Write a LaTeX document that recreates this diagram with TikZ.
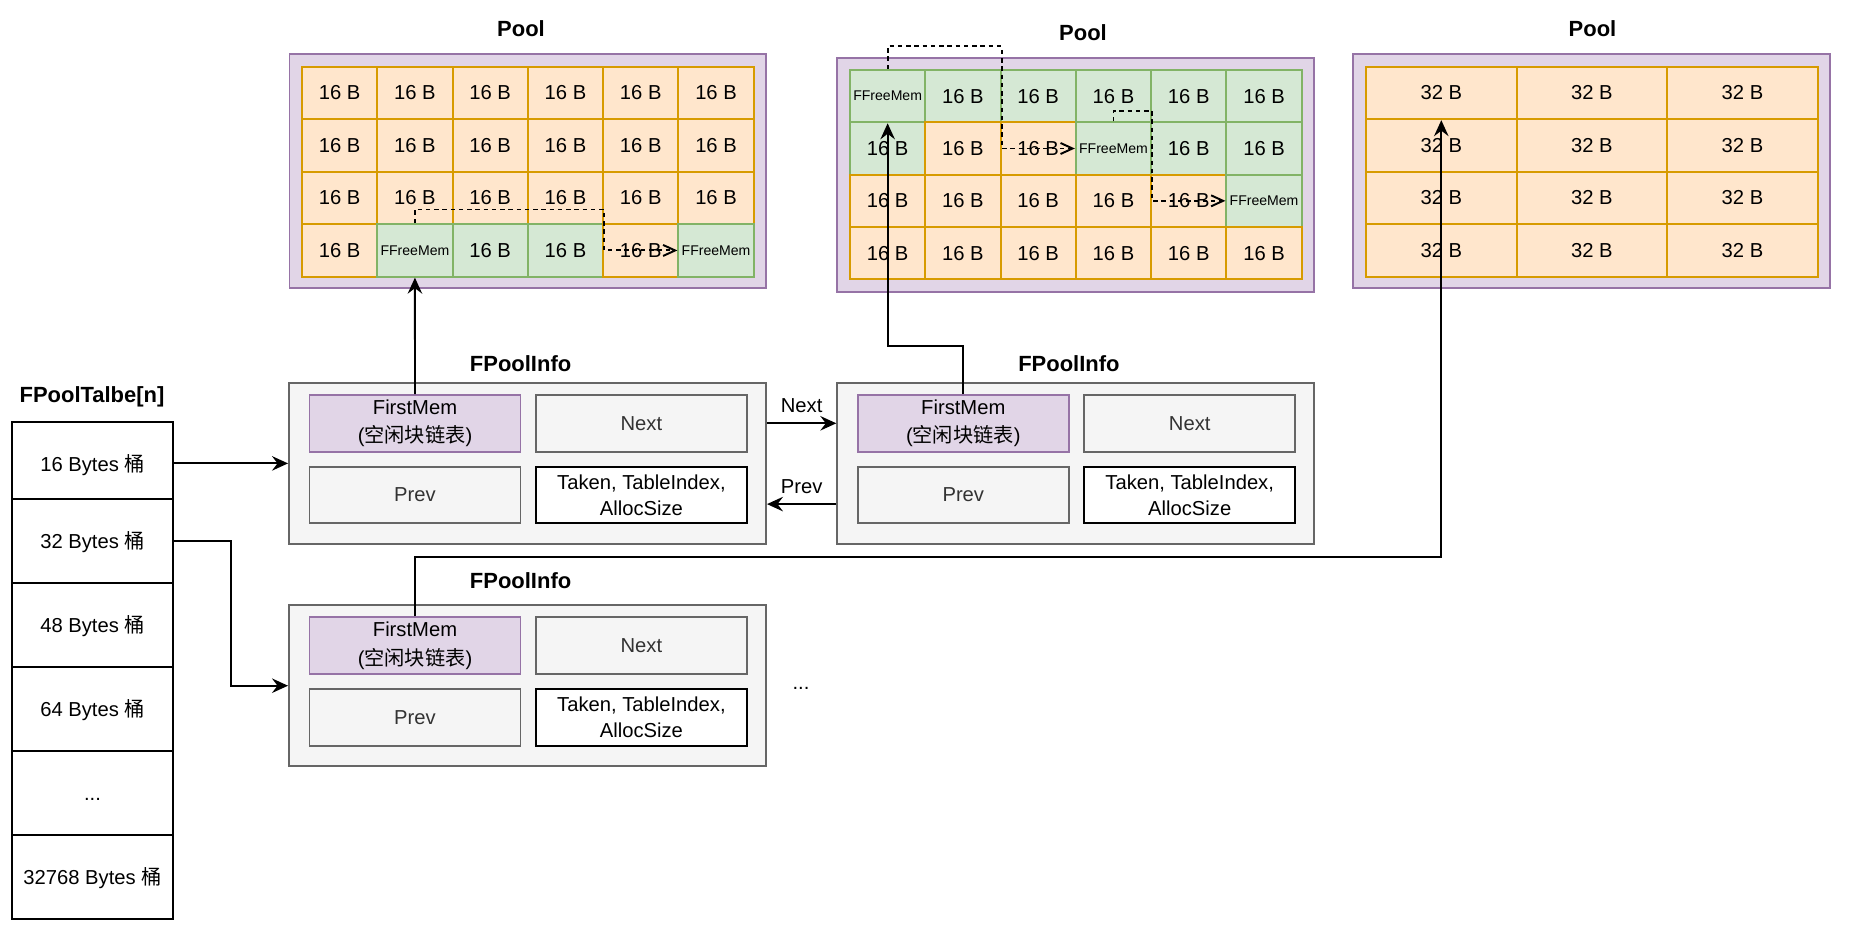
\documentclass[tikz,border=0pt]{standalone}
\usepackage{fontspec}
\setmainfont{Liberation Sans}
\newfontfamily\cjk{Noto Sans CJK SC}
\usepackage{tikz}
\usetikzlibrary{arrows.meta,positioning}
\definecolor{poolfill}{RGB}{225,213,231}
\definecolor{poolline}{RGB}{150,115,166}
\definecolor{usedfill}{RGB}{255,230,204}
\definecolor{usedline}{RGB}{215,155,0}
\definecolor{freefill}{RGB}{213,232,212}
\definecolor{freeline}{RGB}{130,179,102}
\definecolor{infofill}{RGB}{245,245,245}
\definecolor{infoline}{RGB}{102,102,102}
\definecolor{infotext}{RGB}{51,51,51}

\begin{document}
\begin{tikzpicture}[x=0.2mm,y=-0.2mm,
  every node/.style={font=\fontsize{11.5}{14.6}\selectfont},
  title/.style={font=\fontsize{12.5}{15}\selectfont\bfseries},
  poolbox/.style={draw=poolline,fill=poolfill,line width=1.1pt,
                  minimum width=95.3mm,minimum height=46.9mm},
  blk/.style={line width=1.1pt,inner sep=0pt,minimum width=\cellw,minimum height=\cellh},
  cello/.style={blk,draw=usedline,fill=usedfill,node contents=\blksize},
  cellg/.style={blk,draw=freeline,fill=freefill,node contents=\blksize},
  cellf/.style={blk,draw=freeline,fill=freefill,font=\fontsize{8}{9.6}\selectfont,
                node contents=FFreeMem},
  infobox/.style={draw=infoline,fill=infofill,line width=1.1pt,
                  minimum width=95.4mm,minimum height=32.26mm},
  field/.style={line width=1.1pt,inner sep=0pt,align=center,
                minimum width=42.2mm,minimum height=11.3mm},
  memfield/.style={field,draw=poolline,fill=poolfill,font=\fontsize{11.5}{16.3}\selectfont},
  linkfield/.style={field,draw=infoline,fill=infofill,text=infotext},
  datafield/.style={field,draw=black,fill=white},
  bucket/.style={draw=black,line width=1.1pt,outer sep=0pt,minimum width=32.2mm,
                 minimum height=16.8mm,text height=8.3pt,text depth=0pt},
  ptr/.style={-{Stealth[length=3.2mm,width=2.9mm,inset=1.1mm]},line width=1.1pt},
  freeptr/.style={-{Straight Barb[length=2.4mm,width=2.2mm]},line width=1.1pt,
                  dash pattern=on 0.9mm off 0.75mm},
  lbl/.style={font=\fontsize{11.5}{14}\selectfont}]

\path[use as bounding box,fill=white] (0,0) rectangle (1868,938);

% --- 1. pool of 16 B blocks (left)
\node[poolbox] (pool1) at (527.75,171) {};
\node[title] (pool1t) at (521,28.6) {Pool};
\begin{scope}[shift={(302,66.7)}]
  \def\blksize{16 B}\def\cellw{15.06mm}\def\cellh{10.5mm}
  \foreach \r/\kinds in {1/{o,o,o,o,o,o},2/{o,o,o,o,o,o},3/{o,o,o,o,o,o},4/{o,f,g,g,o,f}}
    \foreach \k [count=\c] in \kinds
      \node (pa-\r-\c) at ({(\c-.5)*75.28},{(\r-.5)*52.5}) [cell\k];
\end{scope}
% --- 2. pool of 16 B blocks (middle)
\node[poolbox] (pool2) at (1075.7,175) {};
\node[title] (pool2t) at (1083,32.5) {Pool};
\begin{scope}[shift={(850,70)}]
  \def\blksize{16 B}\def\cellw{15.06mm}\def\cellh{10.47mm}
  \foreach \r/\kinds in {1/{f,g,g,g,g,g},2/{g,o,o,f,g,g},3/{o,o,o,o,o,f},4/{o,o,o,o,o,o}}
    \foreach \k [count=\c] in \kinds
      \node (pb-\r-\c) at ({(\c-.5)*75.28},{(\r-.5)*52.33}) [cell\k];
\end{scope}
% --- 3. pool of 32 B blocks
\node[poolbox] (pool3) at (1591.7,171.2) {};
\node[title] (pool3t) at (1592.5,28.6) {Pool};
\begin{scope}[shift={(1366,66.7)}]
  \def\blksize{32 B}\def\cellw{30.12mm}\def\cellh{10.5mm}
  \foreach \r in {1,...,4}
    \foreach \c in {1,2,3}
      \node (pc-\r-\c) at ({(\c-.5)*150.6},{(\r-.5)*52.5}) [cello];
\end{scope}

% --- bucket table
\node[title] (tablet) at (92,397) {FPoolTalbe[n]};
\node[bucket,minimum height=15.46mm,text height=12.9pt] (row1) at (92.5,460.3) {16 Bytes {\cjk 桶}};
\node[bucket,below=0pt of row1] (row2) {32 Bytes {\cjk 桶}};
\node[bucket,below=0pt of row2] (row3) {48 Bytes {\cjk 桶}};
\node[bucket,below=0pt of row3] (row4) {64 Bytes {\cjk 桶}};
\node[bucket,below=0pt of row4] (row5) {...};
\node[bucket,below=0pt of row5] (row6) {32768 Bytes {\cjk 桶}};

% --- FPoolInfo, 16 B bucket
\begin{scope}[shift={(289,382.7)}]
  \node[infobox] (info1) at (238.5,80.7) {};
  \node[title] (info1t) at (231.6,-19.5) {FPoolInfo};
  \node[memfield] (first1) at (126,40.6) {FirstMem\\({\cjk 空闲块链表})};
  \node[linkfield] (next1) at (352.4,40.6) {Next};
  \node[linkfield] (prev1) at (126,112.3) {Prev};
  \node[datafield] (data1) at (352.4,112.3) {Taken, TableIndex,\\AllocSize};
\end{scope}
% --- FPoolInfo, 16 B bucket, next one
\begin{scope}[shift={(837.3,382.7)}]
  \node[infobox] (info2) at (238.5,80.7) {};
  \node[title] (info2t) at (231.6,-19.5) {FPoolInfo};
  \node[memfield] (first2) at (126,40.6) {FirstMem\\({\cjk 空闲块链表})};
  \node[linkfield] (next2) at (352.4,40.6) {Next};
  \node[linkfield] (prev2) at (126,112.3) {Prev};
  \node[datafield] (data2) at (352.4,112.3) {Taken, TableIndex,\\AllocSize};
\end{scope}
% --- FPoolInfo, 32 B bucket
\begin{scope}[shift={(289,605)}]
  \node[infobox] (info3) at (238.5,80.7) {};
  \node[title] (info3t) at (231.6,-24.5) {FPoolInfo};
  \node[memfield] (first3) at (126,40.6) {FirstMem\\({\cjk 空闲块链表})};
  \node[linkfield] (next3) at (352.4,40.6) {Next};
  \node[linkfield] (prev3) at (126,112.3) {Prev};
  \node[datafield] (data3) at (352.4,112.3) {Taken, TableIndex,\\AllocSize};
\end{scope}
\node (more) at (801,688) {...};

% --- buckets -> infos
\draw[ptr] (row1.east |- info1.west) -- (info1.west);
\draw[ptr] (row2.east) -- ++(58,0) |- (info3.west);
% --- Next / Prev links
\draw[ptr] (info1.east |- next1) -- node[lbl,above=2pt] (nextlbl) {Next} (info2.west |- next2);
\draw[ptr] ([shift={(0,40.7)}]info2.west) -- node[lbl,above=2pt] (prevlbl) {Prev}
  ([shift={(0,40.7)}]info1.east);
% --- free lists
\draw[freeptr] (pa-4-2.north) -- ++(0,-13.7) -| (pa-4-4.east) -- (pa-4-6.west);
\draw[freeptr] (pb-1-1.north) -- ++(0,-22.7) -| (pb-2-2.east) -- (pb-2-4.west);
\draw[freeptr] (pb-2-4.north) -- ++(0,-10.6) -| (pb-3-4.east) -- (pb-3-6.west);
\draw[ptr] (first1.north) -- (pa-4-2.south);
\draw[ptr] (first2.north) -- ++(0,-47.7) -| (pb-1-1.south);
\draw[ptr] (first3.north) -- ++(0,-59) -| (pc-1-1.south);
\end{tikzpicture}
\end{document}
